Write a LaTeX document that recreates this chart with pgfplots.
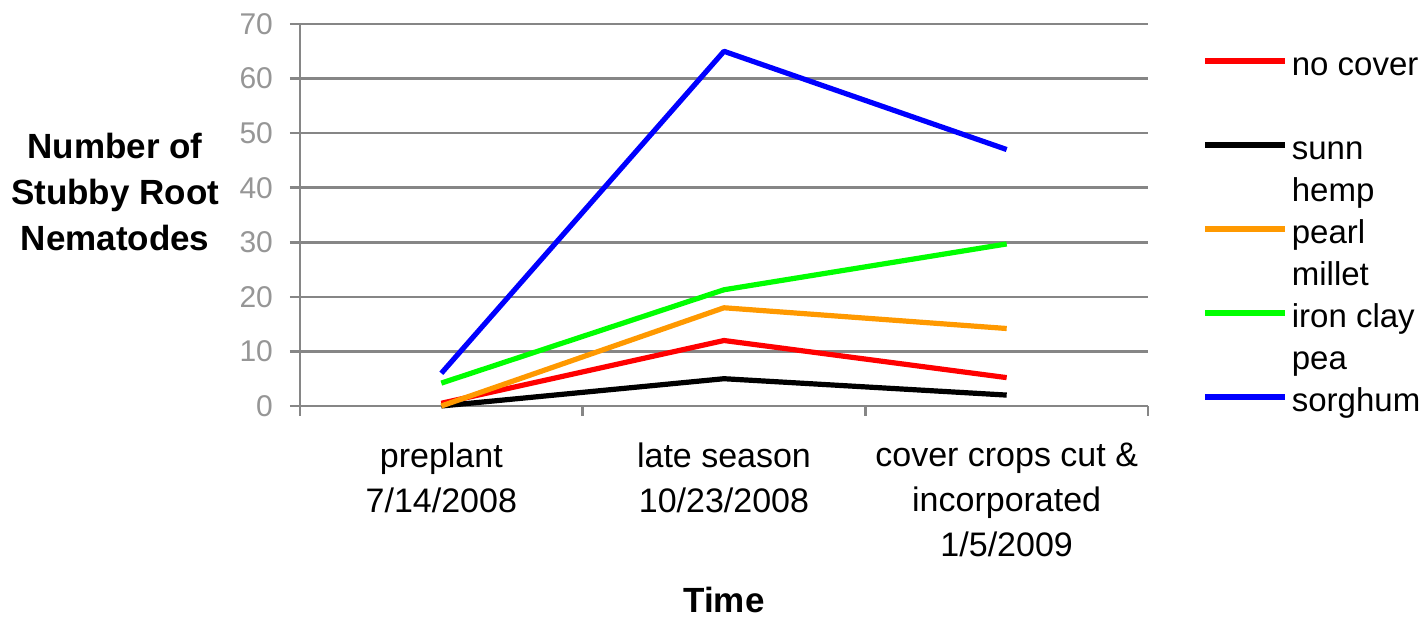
\documentclass[border=0pt]{standalone}
\usepackage{pgfplots}
\pgfplotsset{compat=1.18}
\usepackage{fontspec}
\setmainfont{Liberation Sans}
\definecolor{gridgray}{RGB}{134,134,134}
\definecolor{tickgray}{RGB}{150,150,150}
\definecolor{porange}{RGB}{255,153,0}
\definecolor{pgreen}{RGB}{0,255,0}

\begin{document}
\begin{tikzpicture}
\useasboundingbox (-150pt,-106.5pt) rectangle (561pt,203pt);
\begin{axis}[
  at={(0,0)}, anchor=south west,
  scale only axis, width=424pt, height=191pt,
  xmin=-0.5, xmax=2.5, ymin=0, ymax=70,
  clip=false,
  axis x line*=bottom, axis y line*=left,
  axis line style={gridgray, line width=1.3pt, -},
  % category boundaries carry the tick marks
  xtick={-0.5,0.5,1.5,2.5}, xticklabels={},
  extra x ticks={0,1,2},
  extra x tick labels={preplant\\7/14/2008, late season\\10/23/2008, cover crops cut \&\\incorporated\\1/5/2009},
  extra x tick style={major tick length=0pt},
  x tick label style={font=\fontsize{17}{22.5}\selectfont, align=center, yshift=-15pt},
  ytick={0,10,...,70},
  ymajorgrids,
  major grid style={gridgray, line width=1.3pt},
  tick style={gridgray, line width=1.3pt},
  tick align=outside, major tick length=5pt,
  y tick label style={font=\fontsize{15}{18}\selectfont, text=tickgray, xshift=-5pt},
  /pgf/number format/assume math mode=true,
  xlabel={Time},
  xlabel style={font=\bfseries\fontsize{17.5}{21}\selectfont, at={(axis description cs:0.5,-0.508)}, anchor=center},
  ylabel={Number of\\Stubby Root\\Nematodes},
  ylabel style={rotate=-90, align=center, font=\bfseries\fontsize{17.5}{23}\selectfont, at={(axis description cs:-0.218,0.56)}, anchor=center},
  legend image code/.code={\draw[#1, line cap=butt] (0pt,-9.7pt) -- (40pt,-9.7pt);},
  legend cell align=left,
  legend style={draw=none, fill=none, at={(axis description cs:1.064,0.955)}, anchor=north west,
    inner sep=0pt, column sep=0pt, row sep=0.6pt,
    cells={anchor=north west, align=left, inner sep=0pt},
    font=\fontsize{16.5}{21}\selectfont},
  every axis plot/.append style={line width=2.6pt, line join=round},
]
\addplot[red] coordinates {(0,0.5) (1,12) (2,5.2)};
\addlegendentry{\strut no cover\\\strut}
\addplot[black] coordinates {(0,0) (1,5) (2,2)};
\addlegendentry{\strut sunn\\\strut hemp}
\addplot[porange] coordinates {(0,0) (1,18) (2,14.2)};
\addlegendentry{\strut pearl\\\strut millet}
\addplot[pgreen] coordinates {(0,4.2) (1,21.3) (2,29.7)};
\addlegendentry{\strut iron clay\\\strut pea}
\addplot[blue] coordinates {(0,6) (1,65) (2,47)};
\addlegendentry{\strut sorghum\\\strut}
\end{axis}
\end{tikzpicture}
\end{document}
